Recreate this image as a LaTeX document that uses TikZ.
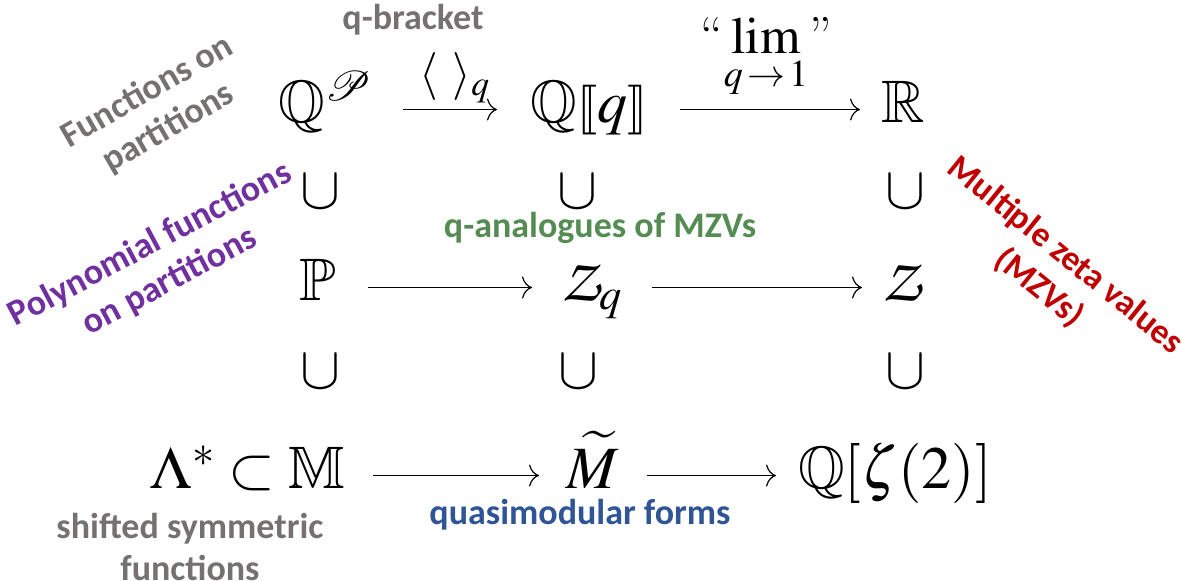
\documentclass[tikz,border=0pt]{standalone}
\usepackage{mathptmx}
\usepackage{amssymb}
\usepackage{mathrsfs}
\usepackage{stmaryrd}
\DeclareMathAlphabet{\mathpzc}{OT1}{pzc}{mb}{it}
\usepackage[no-math]{fontspec}
\newfontfamily\labfont{Carlito}
\usetikzlibrary{arrows.meta}
\definecolor{lgray}{RGB}{118,113,113}
\definecolor{lpurple}{RGB}{112,48,160}
\definecolor{lgreen}{RGB}{84,140,84}
\definecolor{lred}{RGB}{192,0,0}
\definecolor{lblue}{RGB}{47,85,151}
\tikzset{
  mnode/.style={inner sep=0pt, anchor=base, text height=20pt, text depth=7.5pt, font=\fontsize{30}{36}\selectfont},
  cupnode/.style={inner sep=0pt, font=\fontsize{30}{36}\selectfont},
  arr/.style={-{To[length=5pt,width=11pt]}, line width=0.6pt},
  lab/.style={font=\fontsize{18}{21}\labfont\bfseries, align=center, inner sep=0pt},
}
\begin{document}
\begin{tikzpicture}[x=0.5pt,y=-0.5pt]
\useasboundingbox (0,0) rectangle (1182,580);
% row 1
\node[mnode] (QP) at (325,122) {$\mathbb{Q}^{\mathscr{P}}$};
\node[mnode] (Qq) at (589,122) {$\mathbb{Q}\llbracket q\rrbracket$};
\node[mnode] (R) at (903,122) {$\mathbb{R}$};
% row 2
\node[mnode] (P) at (318,300) {$\mathbb{P}$};
\node[mnode] (Zq) at (592,300) {$\mathpzc{Z}_q$};
\node[mnode] (Z) at (903,300) {$\mathpzc{Z}$};
% row 3
\node[mnode] (LM) at (248,488) {$\Lambda^{*}\subset\mathbb{M}$};
\node[mnode] (Mt) at (593,488) {$\widetilde{M}$};
\node[mnode] (Qz) at (895,488) {$\mathbb{Q}[\zeta(2)]$};
% cups
\node[cupnode] (c11) at (320,192) {$\cup$};
\node[cupnode] (c12) at (577,192) {$\cup$};
\node[cupnode] (c13) at (905,192) {$\cup$};
\node[cupnode] (c21) at (320,372) {$\cup$};
\node[cupnode] (c22) at (578,372) {$\cup$};
\node[cupnode] (c23) at (905,372) {$\cup$};
% arrows
\draw[arr] ([xshift=39pt]QP.center) -- ([xshift=-46pt]Qq.center);
\draw[arr] ([xshift=45.5pt]Qq.center) -- ([xshift=-21.5pt]R.center);
\draw[arr] ([xshift=25pt]P.center) -- ([xshift=-30pt]Zq.center);
\draw[arr] ([xshift=30pt]Zq.center) -- ([xshift=-20.5pt]Z.center);
\draw[arr] ([xshift=62.5pt]LM.center) -- ([xshift=-27pt]Mt.center);
\draw[arr] ([xshift=27pt]Mt.center) -- ([xshift=-59.5pt]Qz.center);
% arrow labels
\node[inner sep=0pt, font=\fontsize{24}{28}\selectfont] (br) at (455,78) {$\langle\ \rangle_q$};
\node[inner sep=0pt, anchor=base, font=\fontsize{26}{30}\selectfont] (lim) at (766,53) {``\,$\lim$\,''};
\node[inner sep=0pt, font=\fontsize{19}{22}\selectfont] (lims) at (766,78) {$q\!\to\! 1$};
% coloured labels
\node[lab, text=lgray] (qb) at (413,20) {q-bracket};
\node[lab, text=lgray, rotate=30] (fp) at (158,110) {Functions on\\partitions};
\node[lab, text=lpurple, rotate=28] (pf) at (160,263) {Polynomial functions\\on partitions};
\node[lab, text=lred, rotate=-39, font=\fontsize{17.5}{21}\labfont\bfseries] (mz) at (1052,272) {Multiple zeta values\\(MZVs)};
\node[lab, text=lgreen] (qa) at (600,228) {q-analogues of MZVs};
\node[lab, text=lblue] (qm) at (580,515) {quasimodular forms};
\node[lab, text=lgray] (ss) at (190,547) {shifted symmetric\\functions};
\end{tikzpicture}
\end{document}
